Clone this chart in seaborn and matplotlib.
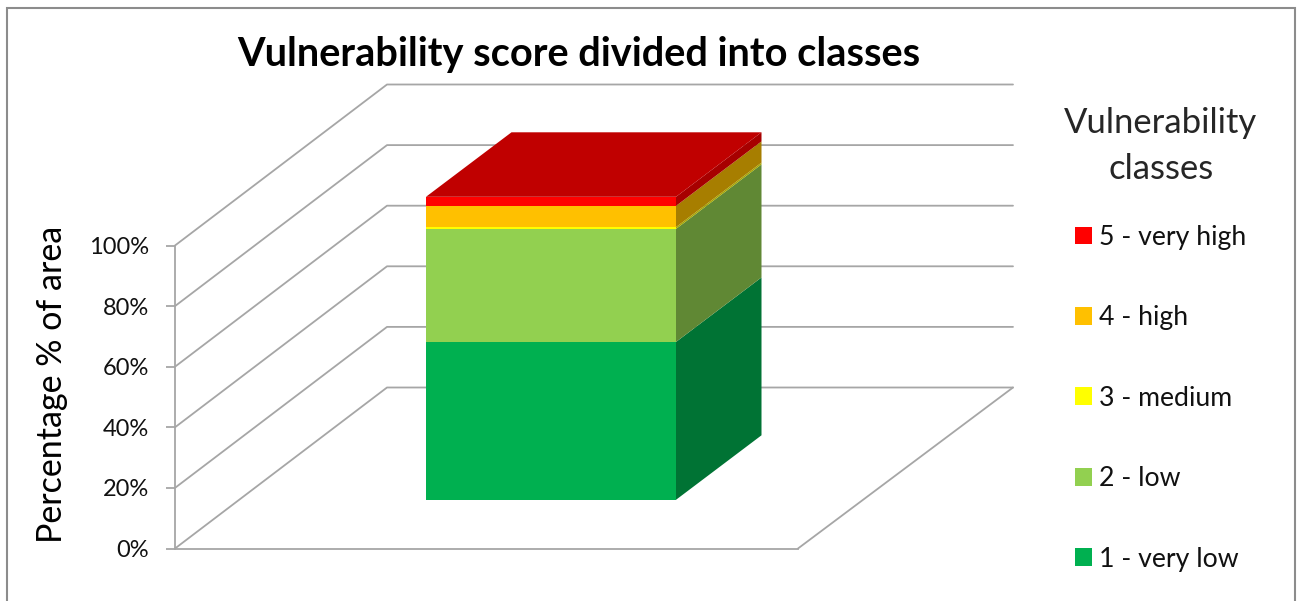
import matplotlib
matplotlib.use("Agg")
import matplotlib.pyplot as plt
from matplotlib.patches import Rectangle
from matplotlib.colors import to_rgb
import seaborn as sns

classes = ["1 - very low", "2 - low", "3 - medium", "4 - high", "5 - very high"]
shares = [52.1, 37.3, 0.6, 7.0, 3.0]
colors = ["#00B050", "#92D050", "#FFFF00", "#FFC000", "#FF0000"]
ticks = [0, 20, 40, 60, 80, 100]
tick_labels = ["0%", "20%", "40%", "60%", "80%", "100%"]
category = ["Area"]

W, H = 1297, 601
sns.set_theme(style="white")
plt.rcParams["font.family"] = ["Lato", "DejaVu Sans"]
fig = plt.figure(figsize=(W / 100, H / 100), dpi=100, facecolor="white")
ax = fig.add_axes([175 / W, (H - 548.5) / H, (1013 - 175) / W, 465.5 / H])
ax.set_facecolor("none")

GRID = "#A6A6A6"
px_x, px_y = 250.0, 3.03
floor_dx, floor_dy = 212 / px_x, 161 / px_y
bar_dx, bar_dy = 85.5 / px_x, 64.5 / px_y
lift = 48.7 / px_y
x0 = (175 - 551) / px_x
x1 = (1013 - 551) / px_x
x_front_end = (798 - 551) / px_x
bl, br = -0.5, 0.5


def shade(c, f):
    return tuple(v * f for v in to_rgb(c))


for t in ticks:
    ax.plot([x0, x0 + floor_dx, x1], [t, t + floor_dy, t + floor_dy],
            color=GRID, lw=1.3, zorder=1, clip_on=False)
ax.plot([x_front_end, x1], [0, floor_dy], color=GRID, lw=1.3, zorder=1, clip_on=False)

base = lift
for name, val, col in zip(classes, shares, colors):
    sns.barplot(x=category, y=[val], bottom=base, width=1, color=col, saturation=1,
                errorbar=None, label=name, ax=ax, zorder=3, linewidth=0, legend=False)
    ax.fill([br, br + bar_dx, br + bar_dx, br],
            [base, base + bar_dy, base + val + bar_dy, base + val],
            color=shade(col, 0.655), lw=0, zorder=3)
    base += val
ax.fill([bl, bl + bar_dx, br + bar_dx, br],
        [base, base + bar_dy, base + bar_dy, base],
        color=shade(colors[-1], 0.753), lw=0, zorder=4)

ax.set_xlim(x0, x1)
ax.set_ylim(0, 465.5 / px_y)
ax.set_xticks([])
ax.set_xlabel("")
ax.set_yticks(ticks)
ax.set_yticklabels(tick_labels, fontsize=17, color="#111111")
ax.tick_params(axis="y", left=True, length=6.5, width=1.3, color=GRID, pad=12)
for s in ["top", "right"]:
    ax.spines[s].set_visible(False)
for s in ["left", "bottom"]:
    ax.spines[s].set_color(GRID)
    ax.spines[s].set_linewidth(1.3)
ax.spines["left"].set_bounds(0, 100)
ax.spines["bottom"].set_bounds(x0, x_front_end)

ax.set_ylabel("Percentage % of area", fontsize=24.5, color="black")
ax.yaxis.set_label_coords((68.5 - 175) / (1013 - 175), (548 - 384) / 465)

ax.set_title("Vulnerability score divided into classes", fontsize=28.6, fontweight="bold",
             color="black", x=(579 - 175) / (1013 - 175), y=(548 - 73.5) / 465, va="bottom", pad=0)

handles, labels = ax.get_legend_handles_labels()
if ax.get_legend() is not None:
    ax.get_legend().remove()
leg = fig.legend(handles[::-1], labels[::-1], title="Vulnerability\nclasses", title_fontsize=24.9,
                 fontsize=19.2, frameon=False, loc="upper left",
                 bbox_to_anchor=(1064 / W, 1 - 107 / H), borderaxespad=0, borderpad=0,
                 labelspacing=2.08, handlelength=0.65, handleheight=0.65, handletextpad=0.28,
                 alignment="center", labelcolor="#111111")
leg.get_title().set_linespacing(1.52)
leg.get_title().set_multialignment("center")
leg._legend_box.sep = 29

fig.add_artist(Rectangle((6.5 / W, -0.02), (1295 - 6.5) / W, 1.02 - 8 / H, transform=fig.transFigure,
                         fill=False, edgecolor="#8C8C8C", lw=1.5))
fig.savefig("out.png", dpi=100)
